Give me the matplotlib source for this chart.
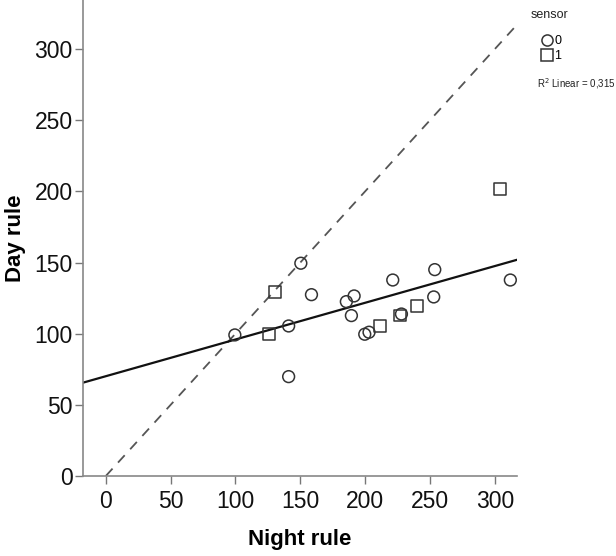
import numpy as np
import matplotlib.pyplot as plt
from matplotlib.lines import Line2D

plt.rcParams['font.family'] = ['Liberation Sans', 'DejaVu Sans']

# sensor 0 (circles)
night_0 = [99.5, 141, 141, 150.4, 158.6, 185.5, 191.5, 189.4, 199.7, 203, 221.3, 228, 253.7, 252.9, 312]
day_0 = [99.1, 105.4, 69.8, 149.5, 127.4, 122.5, 126.5, 112.7, 99.6, 101, 137.7, 113.8, 145, 125.8, 137.7]

# sensor 1 (squares)
night_1 = [125.7, 130.7, 211.7, 226.7, 240, 303.8]
day_1 = [99.8, 129.5, 105.6, 112.7, 119.7, 201.7]

# linear fit
fit_intercept = 70.1
fit_slope = 0.258

fig = plt.figure(figsize=(6.16, 5.56), dpi=100)
ax = fig.add_axes([0.135, 0.144, 0.704, 0.856])

xmin, xmax = -17.5, 317
ax.set_xlim(xmin, xmax)
ax.set_ylim(0, 334.5)

# reference line y = x and the fit line
ax.plot([0, 318], [0, 318], ls=(0, (5.5, 4.5)), color='#555555', lw=1.3, zorder=1)
xs = np.array([xmin, xmax])
ax.plot(xs, fit_intercept + fit_slope * xs, color='#111111', lw=1.6, zorder=2)

ax.scatter(night_0, day_0, marker='o', s=72, facecolors='none',
           edgecolors='#333333', linewidths=1.1, zorder=3)
ax.scatter(night_1, day_1, marker='s', s=72, facecolors='none',
           edgecolors='#333333', linewidths=1.1, zorder=3)

ax.set_xticks([0, 50, 100, 150, 200, 250, 300])
ax.set_yticks([0, 50, 100, 150, 200, 250, 300])
ax.tick_params(labelsize=16.5, length=6, width=1, color='#777777', labelcolor='#111111')
ax.tick_params(axis='y', pad=1.5)
ax.tick_params(axis='x', pad=4)
for side in ['top', 'right']:
    ax.spines[side].set_visible(False)
for side in ['left', 'bottom']:
    ax.spines[side].set_color('#888888')
    ax.spines[side].set_linewidth(1.2)

ax.set_xlabel('Night rule', fontsize=16, fontweight='bold', labelpad=12)
ax.set_ylabel('Day rule', fontsize=16, fontweight='bold', labelpad=6)

# legend, outside the plot on the right
fig.text(0.862, 0.968, 'sensor', fontsize=9, color='#222222')
handles = [Line2D([], [], ls='none', marker='o', ms=8, mfc='none', mec='#333333', mew=1.1),
           Line2D([], [], ls='none', marker='s', ms=8, mfc='none', mec='#333333', mew=1.1)]
fig.legend(handles, ['0', '1'], loc='upper left', bbox_to_anchor=(0.865, 0.948),
           frameon=False, fontsize=9, handletextpad=0.0, handlelength=1.2,
           labelspacing=0.25, borderpad=0.0)
fig.text(0.871, 0.843, 'R$^2$ Linear = 0,315', fontsize=7, color='#222222')

fig.savefig('out.png', dpi=100)
